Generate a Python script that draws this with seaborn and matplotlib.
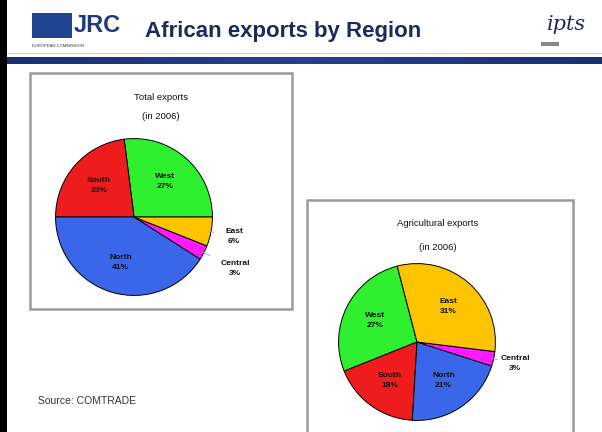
import numpy as np
import matplotlib
matplotlib.use("Agg")
import matplotlib.pyplot as plt
import seaborn as sns
from matplotlib.patches import Rectangle

# ---- data ----
regions = ["West", "South", "North", "Central", "East"]
share_total = [27, 23, 41, 3, 6]
share_agri = [27, 18, 21, 3, 31]
region_colors = ["#2ef02e", "#ee1c1c", "#3a66ea", "#ff1aff", "#ffc400"]
title_total = ["Total exports", "(in 2006)"]
title_agri = ["Agricultural exports", "(in 2006)"]
slide_title = "African exports by Region"
source_text = "Source: COMTRADE"

sns.set_theme(style="white")
plt.rcParams['font.family'] = ['Liberation Sans', 'DejaVu Sans']

W, H = 602, 432
fig = plt.figure(figsize=(W / 100, H / 100), dpi=100)
fig.patch.set_facecolor("white")


def fx(x):
    return x / W


def fy(y):
    return 1 - y / H


# left black strip
fig.add_artist(Rectangle((0, 0), fx(7), 1, transform=fig.transFigure,
                         facecolor="black", edgecolor="none"))

# header band
band = fig.add_axes([fx(7), fy(64), fx(W) - fx(7), fy(57) - fy(64)])
band.imshow(np.linspace(0, 1, 200)[None, :], aspect="auto",
            cmap=matplotlib.colors.LinearSegmentedColormap.from_list("b", ["#1a2f6e", "#27418a", "#1a2f6e"]))
band.axis("off")
fig.add_artist(Rectangle((fx(7), fy(54)), 1, fy(53) - fy(54), transform=fig.transFigure,
                         facecolor="#c8d0e0", edgecolor="none"))

# JRC logo
fig.add_artist(Rectangle((fx(32), fy(38)), fx(40), fy(13) - fy(38), transform=fig.transFigure,
                         facecolor="#1f4590", edgecolor="none"))
fig.text(fx(74), fy(25), "JRC", fontsize=17, fontweight="bold", color="#1f3a80",
         ha="left", va="center", fontstretch="condensed")
fig.text(fx(32), fy(46), "EUROPEAN COMMISSION", fontsize=3, color="#333333",
         ha="left", va="center")

# slide title
fig.text(fx(283), fy(31), slide_title, fontsize=16, fontweight="bold", color="#1c2a5c",
         ha="center", va="center")

# ipts logo
fig.text(fx(567), fy(24), "ipts", fontsize=15, fontstyle="italic", color="#1c2a5c",
         ha="center", va="center", family="DejaVu Serif")
fig.add_artist(Rectangle((fx(541), fy(46)), fx(18), fy(42) - fy(46), transform=fig.transFigure,
                         facecolor="#888888", edgecolor="none"))

# boxes
for (x0, y0, x1, y1) in [(30, 73, 292, 309), (307, 200, 573, 440)]:
    fig.add_artist(Rectangle((fx(x0), fy(y1)), fx(x1) - fx(x0), fy(y0) - fy(y1),
                             transform=fig.transFigure, facecolor="none",
                             edgecolor="#9a9a9a", linewidth=1.8))

# source
fig.text(fx(38), fy(401), source_text, fontsize=7.5, color="#333333", ha="left", va="center")


def draw_pie(cx, cy, r, shares, start, outside, tlines, ty, tx):
    ax = fig.add_axes([fx(cx - r), fy(cy + r), fx(2 * r), fy(cy - r) - fy(cy + r)])
    wedges, _ = ax.pie(shares, colors=region_colors, startangle=start, counterclock=True,
                       radius=1, wedgeprops=dict(edgecolor="black", linewidth=0.7))
    ax.set_xlim(-1.02, 1.02)
    ax.set_ylim(-1.02, 1.02)
    ax.set_aspect("equal")
    ax.axis("off")
    for w, name, s in zip(wedges, regions, shares):
        mid = np.deg2rad((w.theta1 + w.theta2) / 2)
        lab = f"{name}\n{s}%"
        if name in outside:
            d = outside[name]
            ex, ey = np.cos(mid), np.sin(mid)
            lx, ly = d * np.cos(mid), d * np.sin(mid)
            ax.annotate(lab, xy=(0.98 * ex, 0.98 * ey), xytext=(lx, ly),
                        fontsize=6, fontweight="semibold", ha="center", va="center",
                        color="#111111", linespacing=1.6, annotation_clip=False,
                        arrowprops=dict(arrowstyle="-", color="#8aa0d0", lw=0.6,
                                        shrinkA=6, shrinkB=0))
        else:
            ax.text(0.6 * np.cos(mid), 0.6 * np.sin(mid), lab, fontsize=6,
                    fontweight="semibold", ha="center", va="center", color="#111111",
                    linespacing=1.6)
    for t, yy in zip(tlines, ty):
        fig.text(fx(tx), fy(yy), t, fontsize=6.8, ha="center", va="center", color="#111111")


draw_pie(134, 217, 80, share_total, 0, {"East": 1.3, "Central": 1.45},
         title_total, [98, 117], 161)
draw_pie(417, 342, 80, share_agri, 104.6, {"Central": 1.28},
         title_agri, [223, 247], 438)

fig.savefig("out.png", dpi=100)
